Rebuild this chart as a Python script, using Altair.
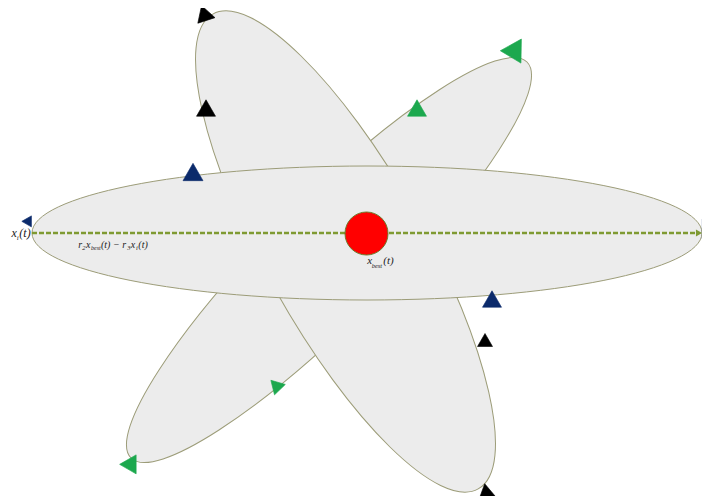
import altair as alt
import pandas as pd

# ---------------- data ----------------
# ellipses (drawn in this order): centre, semi-axes, rotation (deg, clockwise)
ell_names = ["green", "black", "horizontal"]
ell_cx = [329, 345.5, 367]
ell_cy = [260, 251.5, 233]
ell_a = [280, 272, 335]
ell_b = [60, 80, 67]
ell_angle = [135, 60.8, 0]

# triangle markers
tri_x = [204, 206, 193, 417, 516, 29, 711, 492, 485, 279, 132, 486]
tri_y = [13, 108, 172, 108, 48, 220, 229, 299, 340, 386, 462, 491]
tri_angle = [342, 0, 0, 0, 31, 30, 90, 0, 0, 76, 30, 350]
tri_side = [18, 19, 20, 19, 24, 11, 20, 19, 15, 15, 19, 17]
tri_color = ["#000000", "#000000", "#0b2a6b", "#1ca84e", "#1ca84e", "#0b2a6b",
             "#0b2a6b", "#0b2a6b", "#000000", "#1ca84e", "#1ca84e", "#000000"]

# dashed vector x_i(t) -> x_best(t) and beyond
arrow_x = [32]
arrow_x2 = [697]
arrow_y = [233]
head_x = [699]
head_y = [233]

# best position
best_x = [366.5]
best_y = [233.5]
best_r = [21.5]

# labels (pieces: text, x, y baseline, font size)
lab_text = ["x", "i", "(t)",
            "r", "2", "x", "best", "(t) \u2212 r", "3", "x", "i", "(t)",
            "x", "best", "(t)"]
lab_x = [11.5, 16.8, 19.3,
         78.3, 82.3, 86, 91, 101, 127.3, 130.7, 136, 138.3,
         367.3, 371.7, 383.3]
lab_y = [237, 239.5, 237,
         247.7, 250, 247.7, 250, 247.7, 250, 247.7, 250, 247.7,
         264.3, 267.5, 264.3]
lab_size = [12, 7, 12,
            10, 6.5, 10, 6, 10, 6.5, 10, 6.5, 10,
            11, 6.5, 11]

# ---------------- chart ----------------
W, H = 694, 488
xs = alt.Scale(domain=[8, 8 + W], nice=False, zero=False)
ys = alt.Scale(domain=[8, 8 + H], nice=False, zero=False, reverse=True)

layers = []
for i in range(len(ell_names)):
    k = ell_b[i] / ell_a[i]
    path = f"M-1,0A1,{k:.4f} 0 1,1 1,0A1,{k:.4f} 0 1,1 -1,0Z"
    df = pd.DataFrame({"x": [ell_cx[i]], "y": [ell_cy[i]],
                       "sz": [(2 * ell_a[i]) ** 2], "ang": [ell_angle[i]]})
    layers.append(
        alt.Chart(df).mark_point(shape=path, filled=True, fill="#ececec",
                                 stroke="#9c9c78", strokeWidth=1, opacity=1)
        .encode(x=alt.X("x:Q", scale=xs, axis=None),
                y=alt.Y("y:Q", scale=ys, axis=None),
                size=alt.Size("sz:Q", scale=None),
                angle=alt.Angle("ang:Q", scale=None))
    )

arrow_df = pd.DataFrame({"x": arrow_x, "x2": arrow_x2, "y": arrow_y})
layers.append(
    alt.Chart(arrow_df).mark_rule(color="#7f9a32", strokeWidth=2.5, strokeDash=[5, 2])
    .encode(x=alt.X("x:Q", scale=xs, axis=None), x2="x2:Q",
            y=alt.Y("y:Q", scale=ys, axis=None))
)
head_df = pd.DataFrame({"x": head_x, "y": head_y})
layers.append(
    alt.Chart(head_df).mark_point(shape="triangle-right", filled=True,
                                  color="#7f9a32", opacity=1, size=50)
    .encode(x=alt.X("x:Q", scale=xs, axis=None), y=alt.Y("y:Q", scale=ys, axis=None))
)

best_df = pd.DataFrame({"x": best_x, "y": best_y, "sz": [(2 * r) ** 2 for r in best_r]})
layers.append(
    alt.Chart(best_df).mark_point(shape="circle", filled=True, fill="#ff0000",
                                  stroke="#6b7a2a", strokeWidth=1, opacity=1)
    .encode(x=alt.X("x:Q", scale=xs, axis=None), y=alt.Y("y:Q", scale=ys, axis=None),
            size=alt.Size("sz:Q", scale=None))
)

tri_df = pd.DataFrame({"x": tri_x, "y": tri_y, "ang": tri_angle,
                       "sz": [s * s for s in tri_side], "c": tri_color})
layers.append(
    alt.Chart(tri_df).mark_point(shape="triangle-up", filled=True, opacity=1,
                                 strokeWidth=0.6)
    .encode(x=alt.X("x:Q", scale=xs, axis=None), y=alt.Y("y:Q", scale=ys, axis=None),
            angle=alt.Angle("ang:Q", scale=None),
            size=alt.Size("sz:Q", scale=None),
            fill=alt.Fill("c:N", scale=None),
            stroke=alt.Stroke("c:N", scale=None))
)

lab_df = pd.DataFrame({"t": lab_text, "x": lab_x, "y": lab_y, "s": lab_size})
layers.append(
    alt.Chart(lab_df).mark_text(font="Liberation Serif, Times New Roman, serif",
                                fontStyle="italic",
                                align="left", baseline="alphabetic", color="#222222")
    .encode(x=alt.X("x:Q", scale=xs, axis=None), y=alt.Y("y:Q", scale=ys, axis=None),
            text="t:N", size=alt.Size("s:Q", scale=None))
)

chart = alt.layer(*layers).properties(
    width=W, height=H, padding=0, autosize=alt.AutoSizeParams(type="none"),
    background="white"
).configure_view(stroke=None)

chart.save("out.html", embed_options={"renderer": "svg", "actions": False})
